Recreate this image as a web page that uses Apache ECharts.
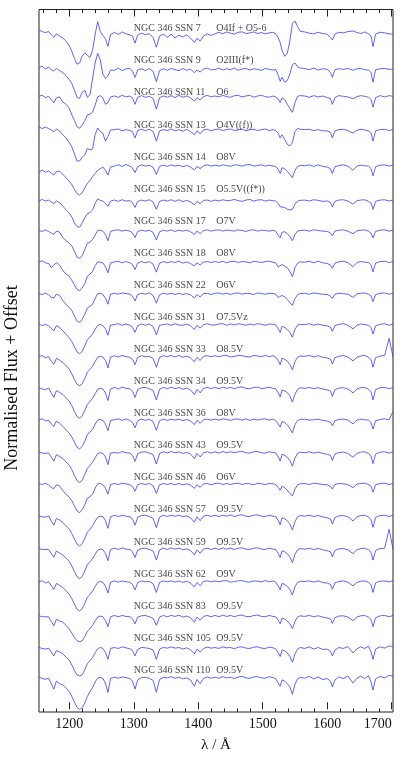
<!DOCTYPE html>
<html>
<head>
<meta charset="utf-8">
<script src="https://cdn.jsdelivr.net/npm/echarts@6/dist/echarts.min.js"></script>
<style>
html, body { margin: 0; padding: 0; background: #fff; }
#main { width: 415px; height: 758px; }
</style>
</head>
<body>
<div id="main"></div>
<script>
// wavelength grid (Angstrom), shared by all spectra
const wave = [
  1153, 1158, 1163, 1168, 1172, 1176, 1180, 1185, 1190, 1195, 1200,
  1204, 1208, 1212, 1216, 1220, 1224, 1228, 1232, 1236, 1240, 1244, 1248, 1252, 1256, 1260, 1264,
  1270, 1276, 1282, 1288, 1294, 1298, 1302, 1306, 1312, 1318, 1324, 1330, 1335, 1340, 1346,
  1352, 1358, 1364, 1370, 1376, 1382, 1388, 1394, 1398, 1403, 1408, 1414, 1420,
  1426, 1432, 1438, 1444, 1450, 1456, 1462, 1468, 1474, 1480, 1486, 1492, 1498, 1504, 1510, 1516,
  1520, 1524, 1527, 1530, 1534, 1538, 1542, 1546, 1550, 1554, 1558,
  1565, 1572, 1579, 1586, 1593, 1600, 1605, 1608, 1612, 1618, 1625, 1632, 1640, 1646, 1652, 1658, 1664, 1668, 1671, 1675, 1682, 1689, 1696, 1702
];

const starNames = ['NGC 346 SSN 7', 'NGC 346 SSN 9', 'NGC 346 SSN 11', 'NGC 346 SSN 13', 'NGC 346 SSN 14',
  'NGC 346 SSN 15', 'NGC 346 SSN 17', 'NGC 346 SSN 18', 'NGC 346 SSN 22', 'NGC 346 SSN 31',
  'NGC 346 SSN 33', 'NGC 346 SSN 34', 'NGC 346 SSN 36', 'NGC 346 SSN 43', 'NGC 346 SSN 46',
  'NGC 346 SSN 57', 'NGC 346 SSN 59', 'NGC 346 SSN 62', 'NGC 346 SSN 83', 'NGC 346 SSN 105', 'NGC 346 SSN 110'];
const spTypes = ['O4If + O5-6', 'O2III(f*)', 'O6', 'O4V((f))', 'O8V',
  'O5.5V((f*))', 'O7V', 'O8V', 'O6V', 'O7.5Vz',
  'O8.5V', 'O9.5V', 'O8V', 'O9.5V', 'O6V',
  'O9.5V', 'O9.5V', 'O9V', 'O9.5V', 'O9.5V', 'O9.5V'];
// vertical offset added to each normalised spectrum
const offsets = [20.12, 18.98, 18.14, 17.09, 15.98, 14.89, 13.95, 12.97, 11.98, 11.02,
  10.03, 9.04, 8.05, 7.03, 6.04, 5.05, 4.02, 3.0, 1.92, 0.93, 0];

// normalised flux per star
const ssn7 = [
  1.09, 1.04, 1.01, 1.04, 0.94, 0.86, 0.97, 0.9, 0.84, 0.74, 0.6,
  0.42, 0.2, 0.02, 0.06, 0.28, 0.38, 0.3, 0.23, 0.45, 0.95, 1.35, 1.05, 0.92, 0.82, 0.58, 0.95,
  1.02, 0.95, 1.03, 0.97, 0.94, 0.9, 0.68, 0.93, 0.99, 0.94, 0.98, 0.85, 0.55, 0.9, 0.96,
  0.86, 0.96, 0.84, 0.93, 0.87, 0.94, 0.84, 0.7, 0.83, 0.74, 0.9, 0.97, 0.92,
  0.97, 1.02, 0.97, 1.03, 0.99, 0.96, 1.02, 1.03, 0.98, 1.0, 1.03, 0.98, 1.01, 0.97, 1.0, 1.02,
  0.97, 0.85, 0.7, 0.45, 0.27, 0.35, 0.75, 1.3, 1.37, 1.2, 1.05,
  1.03, 0.99, 0.97, 1.02, 0.98, 0.96, 0.85, 0.78, 0.96, 1.02, 1.0, 1.04, 1.06, 1.01, 0.98, 1.03, 0.97, 0.9, 0.57, 0.96, 1.02, 1.0, 0.97, 0.96
];
const ssn9 = [
  1.05, 1.1, 1.01, 1.07, 0.99, 0.95, 1.03, 0.96, 0.9, 0.8, 0.68,
  0.55, 0.35, 0.12, 0.1, 0.28, 0.35, 0.13, 0.2, 0.7, 1.2, 1.5, 1.3, 0.85, 0.72, 0.8, 0.98,
  0.97, 1.04, 0.96, 1.02, 1.03, 0.94, 0.75, 0.98, 1.02, 0.96, 1.03, 0.94, 0.62, 0.96, 1.02,
  0.97, 1.03, 0.99, 0.96, 1.03, 0.97, 1.01, 0.9, 0.98, 0.92, 1.01, 1.04, 0.98,
  1.0, 1.04, 0.98, 1.02, 0.99, 1.04, 0.97, 1.01, 1.03, 0.98, 1.02, 1.0, 0.97, 1.03, 1.0, 0.98,
  1.0, 0.82, 0.63, 0.75, 0.6, 0.65, 0.85, 1.15, 1.2, 1.08, 1.04,
  1.03, 0.99, 1.04, 0.98, 1.02, 1.0, 0.9, 0.75, 0.99, 1.02, 1.0, 1.03, 0.97, 1.02, 1.03, 0.99, 0.98, 0.9, 0.6, 0.99, 1.02, 1.03, 1.0, 1.01
];
const ssn11 = [
  1.0, 1.03, 0.96, 1.0, 0.9, 0.8, 0.95, 0.98, 0.82, 0.75, 0.62,
  0.42, 0.25, 0.05, 0.0, 0.1, 0.24, 0.42, 0.44, 0.5, 0.72, 0.98, 1.02, 0.95, 0.75, 0.8, 0.98,
  1.01, 0.97, 1.03, 0.98, 1.01, 0.95, 0.75, 0.97, 1.02, 0.97, 1.0, 0.93, 0.6, 0.96, 1.01,
  0.97, 1.02, 0.96, 1.03, 0.97, 1.01, 0.95, 0.85, 0.96, 0.88, 0.99, 1.03, 0.98,
  1.01, 0.98, 1.03, 0.99, 0.97, 1.02, 1.03, 0.98, 1.01, 1.03, 0.97, 1.01, 1.03, 0.99, 0.97, 1.01,
  0.98, 0.92, 0.8, 0.95, 0.9, 0.75, 0.62, 0.5, 0.8, 1.0, 1.02,
  1.01, 0.97, 1.02, 0.98, 1.01, 0.96, 0.93, 0.75, 0.96, 1.02, 1.0, 0.98, 0.92, 0.99, 1.02, 1.0, 0.97, 0.9, 0.66, 0.96, 1.02, 0.98, 1.02, 1.0
];
const ssn13 = [
  1.1, 1.04, 1.09, 1.04, 1.0, 0.94, 1.03, 0.97, 0.84, 0.75, 0.6,
  0.47, 0.25, 0.03, 0.03, 0.15, 0.22, 0.42, 0.38, 0.4, 0.85, 1.06, 0.95, 0.9, 0.65, 0.8, 1.0,
  1.01, 1.03, 0.97, 1.01, 0.98, 0.94, 0.75, 0.98, 1.02, 0.98, 1.02, 0.95, 0.65, 0.97, 1.01,
  0.98, 1.03, 0.97, 1.01, 0.96, 1.02, 0.95, 0.85, 0.97, 0.88, 1.0, 1.02, 0.97,
  1.01, 1.03, 0.98, 1.01, 1.03, 0.98, 1.0, 1.03, 0.97, 1.01, 1.02, 0.98, 1.01, 1.03, 0.98, 1.01,
  0.98, 0.9, 0.75, 0.85, 0.7, 0.55, 0.5, 0.6, 0.95, 1.05, 1.02,
  1.01, 1.02, 0.98, 1.01, 0.97, 0.97, 0.92, 0.75, 0.97, 1.01, 1.02, 0.98, 0.9, 0.99, 1.02, 1.0, 0.97, 0.9, 0.65, 0.97, 1.01, 1.02, 0.98, 1.01
];
const ssn14 = [
  0.78, 0.86, 0.79, 0.83, 0.76, 0.7, 0.81, 0.82, 0.72, 0.62, 0.5,
  0.4, 0.25, 0.12, 0.08, 0.15, 0.3, 0.45, 0.52, 0.65, 0.75, 0.85, 0.9, 0.95, 0.85, 0.7, 0.95,
  0.98, 1.02, 0.97, 1.03, 0.98, 0.92, 0.78, 0.96, 1.02, 0.98, 1.01, 0.94, 0.72, 0.97, 1.01,
  0.97, 1.02, 0.98, 1.01, 0.96, 1.0, 0.95, 0.86, 0.97, 0.9, 0.99, 1.02, 0.98,
  1.01, 0.98, 1.02, 1.0, 0.97, 1.02, 1.01, 0.98, 1.02, 1.03, 0.98, 1.0, 1.02, 0.98, 1.01, 0.98,
  0.97, 0.88, 0.75, 0.93, 0.9, 0.82, 0.72, 0.62, 0.85, 0.97, 1.0,
  0.99, 1.02, 0.97, 1.02, 0.97, 0.95, 0.9, 0.75, 0.96, 1.0, 1.02, 0.98, 0.85, 0.98, 1.01, 0.99, 0.98, 0.9, 0.68, 0.96, 1.01, 1.02, 0.98, 1.01
];
const ssn15 = [
  0.98, 1.03, 0.98, 1.01, 0.95, 0.9, 0.98, 0.93, 0.82, 0.7, 0.6,
  0.48, 0.3, 0.18, 0.16, 0.3, 0.45, 0.58, 0.62, 0.7, 0.9, 1.05, 1.0, 0.98, 0.9, 0.82, 0.98,
  1.01, 0.97, 1.02, 0.98, 0.99, 0.93, 0.78, 0.97, 1.01, 0.98, 1.02, 0.95, 0.72, 0.97, 1.01,
  0.98, 1.02, 0.97, 1.02, 0.96, 1.0, 0.95, 0.86, 0.97, 0.9, 1.0, 1.01, 0.97,
  1.01, 0.98, 1.02, 0.99, 1.0, 1.03, 0.99, 0.97, 1.01, 1.03, 0.98, 1.01, 1.02, 0.98, 1.01, 0.99,
  0.98, 0.9, 0.8, 0.85, 0.78, 0.72, 0.7, 0.72, 0.88, 0.98, 1.0,
  1.01, 0.98, 1.02, 1.0, 0.97, 0.98, 0.93, 0.8, 0.97, 1.01, 1.02, 0.98, 0.88, 0.99, 1.01, 1.02, 0.97, 0.92, 0.72, 0.97, 1.01, 1.02, 0.98, 1.01
];
const ssn17 = [
  1.0, 0.97, 1.02, 0.97, 0.92, 0.88, 0.98, 0.95, 0.78, 0.68, 0.6,
  0.52, 0.35, 0.17, 0.13, 0.22, 0.4, 0.6, 0.63, 0.72, 0.85, 1.0, 1.01, 0.98, 0.88, 0.68, 0.97,
  1.01, 1.02, 0.98, 1.01, 0.98, 0.92, 0.78, 0.97, 1.01, 0.98, 1.01, 0.94, 0.7, 0.96, 1.01,
  0.98, 1.02, 0.97, 1.01, 0.98, 1.01, 0.96, 0.88, 0.98, 0.9, 1.0, 1.02, 0.98,
  1.01, 1.02, 0.98, 1.01, 1.0, 0.98, 1.02, 1.0, 0.97, 1.01, 1.02, 0.98, 1.01, 1.0, 0.98, 1.01,
  0.98, 0.85, 0.77, 0.95, 0.96, 0.9, 0.82, 0.68, 0.88, 0.98, 1.0,
  1.01, 0.98, 1.02, 1.0, 0.98, 0.97, 0.92, 0.84, 0.98, 1.01, 1.02, 0.98, 0.9, 0.99, 1.01, 1.02, 0.98, 0.92, 0.77, 0.97, 1.01, 1.02, 0.98, 1.01
];
const ssn18 = [
  1.0, 1.03, 0.97, 0.95, 0.82, 0.9, 0.98, 0.9, 0.73, 0.62, 0.55,
  0.42, 0.28, 0.14, 0.1, 0.18, 0.32, 0.55, 0.62, 0.7, 0.88, 1.0, 0.99, 0.97, 0.85, 0.66, 0.97,
  1.0, 1.02, 0.97, 1.01, 0.97, 0.92, 0.76, 0.96, 1.01, 0.97, 1.01, 0.93, 0.68, 0.96, 1.01,
  0.97, 1.01, 0.98, 1.02, 0.96, 1.0, 0.95, 0.87, 0.97, 0.9, 0.99, 1.01, 0.98,
  1.01, 0.98, 1.02, 0.97, 1.01, 1.02, 0.98, 1.01, 1.0, 0.97, 1.02, 1.0, 0.98, 1.01, 1.02, 0.99,
  0.97, 0.84, 0.8, 0.92, 0.86, 0.82, 0.7, 0.54, 0.82, 0.96, 1.0,
  0.99, 1.02, 0.97, 1.02, 0.97, 0.95, 0.9, 0.8, 0.96, 1.0, 1.02, 0.98, 0.85, 0.98, 1.01, 0.99, 0.98, 0.9, 0.69, 0.96, 1.01, 1.02, 0.98, 1.01
];
const ssn22 = [
  1.0, 0.97, 1.02, 0.96, 0.88, 0.86, 0.98, 0.94, 0.78, 0.66, 0.57,
  0.47, 0.3, 0.14, 0.1, 0.2, 0.35, 0.55, 0.6, 0.66, 0.85, 1.0, 1.01, 0.97, 0.86, 0.67, 0.98,
  1.01, 0.98, 1.02, 1.0, 0.98, 0.92, 0.77, 0.97, 1.01, 0.98, 1.02, 0.94, 0.7, 0.96, 1.01,
  0.98, 1.01, 0.97, 1.01, 0.97, 1.0, 0.96, 0.86, 0.97, 0.89, 1.0, 1.01, 0.97,
  1.01, 1.02, 0.98, 1.01, 0.97, 1.01, 1.02, 0.98, 1.01, 1.0, 0.97, 1.02, 1.0, 0.98, 1.01, 1.0,
  0.98, 0.88, 0.82, 0.94, 0.9, 0.82, 0.72, 0.63, 0.84, 0.97, 1.0,
  1.01, 0.98, 1.02, 1.0, 0.98, 0.97, 0.92, 0.85, 0.98, 1.01, 1.0, 0.98, 0.88, 0.99, 1.01, 1.02, 0.98, 0.92, 0.75, 0.97, 1.01, 1.02, 0.98, 1.01
];
const ssn31 = [
  1.01, 0.96, 1.0, 0.95, 0.87, 0.8, 0.96, 0.9, 0.8, 0.69, 0.58,
  0.46, 0.3, 0.14, 0.08, 0.15, 0.33, 0.52, 0.6, 0.7, 0.84, 0.97, 1.0, 0.96, 0.86, 0.66, 0.98,
  0.99, 1.02, 0.97, 1.01, 0.97, 0.91, 0.75, 0.96, 1.01, 0.97, 1.01, 0.93, 0.67, 0.97, 0.99,
  1.01, 0.97, 1.02, 0.98, 0.97, 1.01, 0.95, 0.84, 0.97, 0.88, 0.99, 1.02, 0.98,
  0.98, 1.01, 1.02, 0.97, 1.01, 0.98, 1.02, 1.0, 0.97, 1.01, 0.98, 1.02, 1.0, 0.97, 1.01, 1.0,
  0.98, 0.86, 0.75, 0.94, 0.9, 0.84, 0.75, 0.6, 0.85, 0.97, 1.0,
  0.99, 1.02, 0.97, 1.01, 0.97, 0.95, 0.91, 0.78, 0.96, 1.0, 1.02, 0.97, 0.86, 0.97, 1.01, 0.99, 0.97, 0.9, 0.7, 0.95, 1.0, 1.02, 0.97, 1.01
];
const ssn33 = [
  0.99, 1.01, 0.95, 0.98, 0.84, 0.74, 0.93, 0.87, 0.8, 0.7, 0.59,
  0.44, 0.27, 0.12, 0.07, 0.13, 0.3, 0.5, 0.58, 0.68, 0.83, 0.96, 0.99, 0.97, 0.86, 0.63, 0.97,
  1.01, 0.97, 1.02, 0.98, 0.96, 0.9, 0.73, 0.96, 1.01, 0.98, 0.99, 0.92, 0.65, 0.96, 1.01,
  0.98, 1.02, 0.97, 1.02, 0.96, 1.0, 0.94, 0.82, 0.96, 0.86, 0.99, 1.01, 0.98,
  1.01, 0.98, 1.01, 1.02, 0.97, 0.99, 1.02, 1.01, 0.98, 0.97, 1.02, 1.0, 0.98, 1.02, 0.98, 1.01,
  0.97, 0.85, 0.73, 0.93, 0.9, 0.84, 0.74, 0.57, 0.83, 0.96, 1.0,
  0.99, 1.02, 0.97, 1.01, 0.96, 0.94, 0.9, 0.75, 0.95, 0.99, 1.02, 0.97, 0.85, 0.96, 1.0, 1.02, 0.97, 0.88, 0.65, 0.95, 1.0, 1.02, 1.55, 0.98
];
const ssn34 = [
  1.0, 0.96, 0.94, 0.99, 0.84, 0.7, 0.91, 0.85, 0.79, 0.68, 0.58,
  0.44, 0.26, 0.1, 0.05, 0.12, 0.29, 0.48, 0.57, 0.67, 0.81, 0.95, 0.98, 0.96, 0.84, 0.6, 0.96,
  1.01, 0.96, 1.02, 0.98, 0.97, 0.89, 0.7, 0.94, 1.0, 1.01, 0.97, 0.91, 0.62, 0.95, 1.01,
  0.97, 1.02, 0.97, 1.01, 0.95, 0.99, 0.93, 0.79, 0.95, 0.84, 0.98, 1.01, 0.97,
  1.01, 0.97, 1.02, 0.98, 1.01, 0.97, 1.01, 1.03, 0.98, 0.97, 1.01, 1.02, 0.97, 0.99, 1.02, 0.98,
  0.97, 0.84, 0.71, 0.93, 0.9, 0.85, 0.75, 0.55, 0.8, 0.95, 1.0,
  0.98, 1.01, 0.97, 1.0, 0.96, 0.93, 0.9, 0.73, 0.94, 0.99, 1.0, 0.96, 0.84, 0.96, 1.0, 1.01, 0.96, 0.87, 0.62, 0.94, 1.0, 1.01, 0.97, 1.01
];
const ssn36 = [
  0.99, 1.02, 0.96, 0.97, 0.86, 0.78, 0.95, 0.88, 0.78, 0.67, 0.57,
  0.45, 0.29, 0.13, 0.08, 0.16, 0.32, 0.53, 0.6, 0.69, 0.85, 0.98, 1.0, 0.97, 0.86, 0.65, 0.97,
  0.99, 1.02, 0.97, 1.02, 0.97, 0.91, 0.74, 0.96, 1.01, 0.97, 1.01, 0.93, 0.66, 0.96, 1.01,
  0.97, 1.01, 0.98, 1.01, 0.96, 1.0, 0.95, 0.84, 0.97, 0.88, 0.99, 1.01, 0.98,
  1.01, 0.98, 1.02, 1.0, 0.97, 1.01, 1.01, 0.98, 1.02, 0.97, 1.01, 0.98, 1.01, 1.02, 0.98, 1.01,
  0.97, 0.86, 0.76, 0.94, 0.9, 0.83, 0.72, 0.58, 0.84, 0.97, 1.0,
  1.01, 0.98, 0.99, 1.01, 0.97, 0.95, 0.91, 0.8, 0.96, 1.0, 1.01, 0.98, 0.86, 0.98, 1.01, 0.99, 0.98, 0.9, 0.7, 0.96, 1.0, 1.02, 0.99, 1.25
];
const ssn43 = [
  1.01, 0.97, 0.96, 0.97, 0.85, 0.72, 0.92, 0.86, 0.8, 0.69, 0.59,
  0.45, 0.27, 0.11, 0.05, 0.12, 0.3, 0.49, 0.58, 0.68, 0.82, 0.96, 0.98, 0.96, 0.85, 0.61, 0.97,
  0.99, 0.97, 1.02, 0.98, 0.97, 0.9, 0.71, 0.95, 1.0, 1.01, 0.97, 0.92, 0.63, 0.96, 1.01,
  0.97, 1.02, 0.98, 1.01, 0.96, 0.99, 0.94, 0.8, 0.96, 0.85, 0.98, 1.01, 0.97,
  1.01, 0.97, 1.02, 0.98, 1.01, 0.98, 1.01, 1.02, 0.98, 0.97, 1.01, 1.02, 0.98, 0.97, 1.01, 0.99,
  0.97, 0.85, 0.72, 0.93, 0.9, 0.84, 0.74, 0.56, 0.82, 0.96, 1.0,
  0.98, 1.01, 0.97, 1.0, 0.96, 0.93, 0.9, 0.74, 0.94, 0.99, 1.0, 0.96, 0.84, 0.96, 1.0, 1.01, 0.96, 0.88, 0.64, 0.94, 1.0, 1.01, 0.97, 1.01
];
const ssn46 = [
  1.0, 0.98, 1.02, 0.96, 0.89, 0.85, 0.97, 0.93, 0.79, 0.67, 0.58,
  0.47, 0.31, 0.15, 0.1, 0.19, 0.35, 0.55, 0.6, 0.67, 0.86, 1.0, 1.01, 0.97, 0.87, 0.68, 0.98,
  1.01, 0.98, 1.02, 1.0, 0.97, 0.92, 0.77, 0.97, 1.01, 0.98, 1.01, 0.94, 0.7, 0.97, 1.01,
  0.98, 1.01, 0.97, 1.01, 0.97, 1.0, 0.96, 0.86, 0.97, 0.89, 1.0, 1.01, 0.97,
  1.01, 1.02, 0.98, 1.01, 0.98, 1.01, 1.02, 0.98, 1.01, 1.0, 0.97, 1.02, 1.0, 0.98, 1.01, 1.0,
  0.98, 0.88, 0.8, 0.93, 0.88, 0.8, 0.7, 0.62, 0.84, 0.97, 1.0,
  1.01, 0.98, 1.02, 1.0, 0.98, 0.97, 0.92, 0.84, 0.98, 1.01, 1.0, 0.98, 0.88, 0.99, 1.01, 1.02, 0.98, 0.92, 0.74, 0.97, 1.01, 1.02, 0.98, 1.01
];
const ssn57 = [
  0.99, 0.96, 0.95, 0.99, 0.83, 0.7, 0.91, 0.86, 0.78, 0.68, 0.58,
  0.43, 0.26, 0.11, 0.05, 0.12, 0.29, 0.48, 0.57, 0.68, 0.82, 0.95, 0.98, 0.97, 0.84, 0.6, 0.96,
  1.01, 0.97, 1.01, 0.98, 0.96, 0.89, 0.7, 0.94, 1.0, 1.01, 0.97, 0.91, 0.62, 0.95, 1.01,
  0.97, 1.01, 0.98, 1.01, 0.96, 0.99, 0.93, 0.79, 0.96, 0.84, 0.98, 1.01, 0.97,
  1.01, 0.97, 1.01, 0.98, 1.02, 0.97, 1.01, 1.02, 0.98, 0.97, 1.01, 1.02, 0.98, 0.97, 1.01, 0.98,
  0.97, 0.84, 0.71, 0.93, 0.9, 0.84, 0.74, 0.55, 0.81, 0.96, 1.0,
  0.98, 1.01, 0.97, 1.0, 0.96, 0.93, 0.89, 0.73, 0.94, 0.99, 1.0, 0.96, 0.83, 0.96, 1.0, 1.01, 0.96, 0.87, 0.63, 0.94, 1.0, 1.01, 0.97, 1.01
];
const ssn59 = [
  1.0, 0.97, 0.97, 0.97, 0.85, 0.73, 0.92, 0.86, 0.79, 0.7, 0.6,
  0.45, 0.28, 0.12, 0.06, 0.13, 0.3, 0.5, 0.58, 0.68, 0.82, 0.95, 0.98, 0.97, 0.85, 0.62, 0.97,
  1.01, 0.97, 1.02, 0.98, 0.97, 0.9, 0.72, 0.95, 1.0, 1.01, 0.97, 0.92, 0.64, 0.96, 1.01,
  0.97, 1.02, 0.98, 1.01, 0.96, 0.99, 0.94, 0.8, 0.96, 0.85, 0.98, 1.01, 0.97,
  1.01, 0.97, 1.02, 0.98, 1.01, 0.97, 1.01, 1.02, 0.98, 0.97, 1.01, 1.02, 0.98, 0.97, 1.01, 0.98,
  0.97, 0.85, 0.72, 0.93, 0.9, 0.84, 0.74, 0.56, 0.82, 0.96, 1.0,
  0.98, 1.01, 0.97, 1.0, 0.96, 0.93, 0.9, 0.74, 0.94, 0.99, 1.0, 0.96, 0.84, 0.96, 1.0, 1.01, 0.96, 0.88, 0.64, 0.94, 1.0, 1.01, 1.6, 0.98
];
const ssn62 = [
  0.99, 1.01, 0.95, 0.98, 0.86, 0.74, 0.93, 0.87, 0.8, 0.7, 0.59,
  0.45, 0.28, 0.12, 0.07, 0.14, 0.31, 0.5, 0.58, 0.69, 0.83, 0.96, 0.99, 0.97, 0.85, 0.63, 0.97,
  1.01, 0.97, 1.01, 0.98, 0.97, 0.9, 0.73, 0.95, 1.01, 0.98, 0.99, 0.92, 0.65, 0.96, 1.01,
  0.98, 1.01, 0.97, 1.01, 0.96, 1.0, 0.94, 0.82, 0.96, 0.86, 0.99, 1.01, 0.98,
  1.01, 0.98, 1.01, 1.02, 0.97, 0.99, 1.01, 1.02, 0.98, 0.97, 1.01, 1.0, 0.98, 1.02, 0.98, 1.01,
  0.97, 0.85, 0.73, 0.93, 0.9, 0.84, 0.74, 0.57, 0.83, 0.96, 1.0,
  0.99, 1.01, 0.97, 1.01, 0.96, 0.94, 0.9, 0.75, 0.95, 0.99, 1.01, 0.97, 0.85, 0.96, 1.0, 1.01, 0.97, 0.88, 0.65, 0.95, 1.0, 1.01, 0.98, 1.01
];
const ssn83 = [
  1.0, 0.97, 0.97, 0.97, 0.82, 0.69, 0.89, 0.84, 0.8, 0.7, 0.58,
  0.46, 0.32, 0.22, 0.19, 0.22, 0.35, 0.52, 0.6, 0.7, 0.84, 0.96, 0.99, 0.97, 0.85, 0.66, 0.97,
  1.01, 0.97, 1.01, 0.98, 0.97, 0.9, 0.75, 0.96, 1.0, 1.01, 0.97, 0.92, 0.7, 0.96, 1.01,
  0.97, 1.01, 0.98, 1.02, 0.96, 0.99, 0.94, 0.8, 0.96, 0.86, 0.98, 1.01, 0.97,
  1.01, 0.97, 1.02, 0.98, 1.01, 0.97, 1.01, 1.02, 0.98, 0.97, 1.01, 1.02, 0.98, 0.97, 1.01, 0.98,
  0.97, 0.86, 0.75, 0.93, 0.9, 0.84, 0.75, 0.6, 0.82, 0.96, 1.0,
  0.98, 1.01, 0.97, 1.0, 0.96, 0.93, 0.9, 0.76, 0.94, 0.99, 1.0, 0.96, 0.85, 0.96, 1.0, 1.01, 0.96, 0.88, 0.66, 0.94, 1.0, 1.01, 0.97, 1.01
];
const ssn105 = [
  1.0, 0.97, 0.95, 0.98, 0.86, 0.74, 0.9, 0.86, 0.8, 0.7, 0.6,
  0.45, 0.28, 0.14, 0.11, 0.15, 0.3, 0.5, 0.58, 0.68, 0.83, 0.96, 1.0, 0.97, 0.85, 0.63, 0.97,
  1.0, 0.97, 1.02, 0.99, 0.96, 0.9, 0.74, 0.94, 1.0, 0.99, 0.97, 0.92, 0.63, 0.95, 1.0,
  0.98, 1.02, 0.98, 1.0, 0.95, 0.99, 0.93, 0.8, 0.95, 0.85, 0.97, 1.01, 0.98,
  1.0, 0.97, 1.02, 0.99, 1.0, 0.96, 1.01, 1.02, 0.98, 0.97, 1.01, 1.02, 0.98, 0.97, 1.01, 0.99,
  0.96, 0.84, 0.72, 0.92, 0.9, 0.83, 0.72, 0.54, 0.8, 0.95, 1.0,
  0.97, 1.02, 0.95, 1.0, 0.94, 0.95, 0.88, 0.74, 0.92, 1.0, 0.97, 1.03, 0.83, 0.96, 1.02, 0.97, 1.04, 0.86, 0.63, 0.95, 1.02, 0.98, 1.05, 1.03
];
const ssn110 = [
  1.01, 0.96, 0.94, 0.97, 0.8, 0.63, 0.88, 0.8, 0.76, 0.66, 0.55,
  0.4, 0.22, 0.06, 0.0, 0.05, 0.2, 0.4, 0.55, 0.68, 0.85, 0.97, 1.0, 0.97, 0.82, 0.53, 0.96,
  1.0, 0.97, 1.01, 0.99, 0.96, 0.88, 0.63, 0.92, 0.99, 1.0, 0.97, 0.9, 0.53, 0.93, 1.0,
  0.98, 1.02, 0.97, 1.0, 0.95, 0.98, 0.92, 0.72, 0.93, 0.8, 0.96, 1.01, 0.97,
  1.0, 0.97, 1.02, 0.98, 1.0, 0.96, 1.01, 1.03, 0.98, 0.97, 1.01, 1.02, 0.98, 0.97, 1.02, 0.99,
  0.96, 0.82, 0.72, 0.92, 0.88, 0.8, 0.7, 0.47, 0.78, 0.95, 1.0,
  0.97, 1.03, 0.95, 1.01, 0.93, 0.96, 0.88, 0.7, 0.92, 1.01, 0.96, 1.04, 0.82, 0.97, 1.03, 0.96, 1.05, 0.85, 0.6, 0.95, 1.03, 0.98, 1.06, 1.04
];

const fluxes = [ssn7, ssn9, ssn11, ssn13, ssn14, ssn15, ssn17, ssn18, ssn22, ssn31,
  ssn33, ssn34, ssn36, ssn43, ssn46, ssn57, ssn59, ssn62, ssn83, ssn105, ssn110];

const majorTicks = [1200, 1300, 1400, 1500, 1600, 1700];
const minorTicks = [1160, 1180, 1220, 1240, 1260, 1280, 1320, 1340, 1360, 1380, 1420, 1440, 1460, 1480,
  1520, 1540, 1560, 1580, 1620, 1640, 1660, 1680];

const X_MIN = 1153, X_MAX = 1702;
const serif = "'Liberation Serif', 'DejaVu Serif', serif";
const lineColor = '#3a3aff';

const series = [];
fluxes.forEach(function (f, k) {
  if (f.length !== wave.length) console.error('length mismatch', starNames[k], f.length);
  series.push({
    type: 'line',
    name: starNames[k],
    data: wave.map(function (w, i) { return [w, f[i] + offsets[k]]; }),
    showSymbol: false,
    symbol: 'none',
    lineStyle: { color: lineColor, width: 0.8 },
    silent: true,
    z: 2
  });
});

// star labels sit just above each spectrum
const nameData = starNames.map(function (n, k) { return [1300, 21.25 - k * 1.0015, n]; });
const typeData = spTypes.map(function (t, k) { return [1428, 21.25 - k * 1.0015, t]; });
function textSeries(data) {
  return {
    type: 'scatter',
    data: data,
    symbolSize: 1,
    itemStyle: { color: 'rgba(0,0,0,0)' },
    silent: true,
    z: 5,
    label: {
      show: true,
      position: 'inside',
      align: 'left',
      verticalAlign: 'middle',
      formatter: function (p) { return p.data[2]; },
      fontFamily: serif,
      fontSize: 10,
      color: '#111'
    }
  };
}
series.push(textSeries(nameData));
series.push(textSeries(typeData));

function xAxisCfg(pos, ticks, len, withLabels) {
  const cfg = {
    type: 'value',
    position: pos,
    min: X_MIN,
    max: X_MAX,
    axisLine: { show: false },
    splitLine: { show: false },
    axisTick: { show: true, inside: true, length: len, customValues: ticks, lineStyle: { color: '#222', width: 1 } },
    axisLabel: { show: false }
  };
  if (withLabels) {
    cfg.axisLabel = {
      show: true,
      customValues: majorTicks,
      margin: 5,
      fontFamily: serif,
      fontSize: 14,
      color: '#111',
      formatter: function (v) { return v === 1700 ? '{r|1700}' : String(v); },
      rich: { r: { fontFamily: serif, fontSize: 14, color: '#111', padding: [0, 28, 0, 0] } }
    };
    cfg.name = 'λ / Å';
    cfg.nameLocation = 'middle';
    cfg.nameGap = 26;
    cfg.nameTextStyle = { fontFamily: serif, fontSize: 15, color: '#111' };
  }
  return cfg;
}

const chart = echarts.init(document.getElementById('main'));
chart.setOption({
  animation: false,
  backgroundColor: '#fff',
  grid: { left: 39, right: 22, top: 9.5, bottom: 40, show: true, borderColor: '#222', borderWidth: 1, backgroundColor: 'transparent' },
  xAxis: [
    xAxisCfg('bottom', majorTicks, 7, true),
    xAxisCfg('bottom', minorTicks, 3.5, false),
    xAxisCfg('top', majorTicks, 7, false),
    xAxisCfg('top', minorTicks, 3.5, false)
  ],
  yAxis: {
    type: 'value',
    min: -0.084,
    max: 21.85,
    axisLine: { show: false },
    axisTick: { show: false },
    axisLabel: { show: false },
    splitLine: { show: false }
  },
  graphic: [{
    type: 'text',
    x: 12,
    y: 378,
    rotation: Math.PI / 2,
    style: {
      text: 'Normalised Flux + Offset',
      fontFamily: serif,
      fontSize: 18,
      fill: '#111',
      align: 'center',
      verticalAlign: 'middle'
    }
  }],
  series: series
});
window.onresize = function () { chart.resize(); };
</script>
</body>
</html>
